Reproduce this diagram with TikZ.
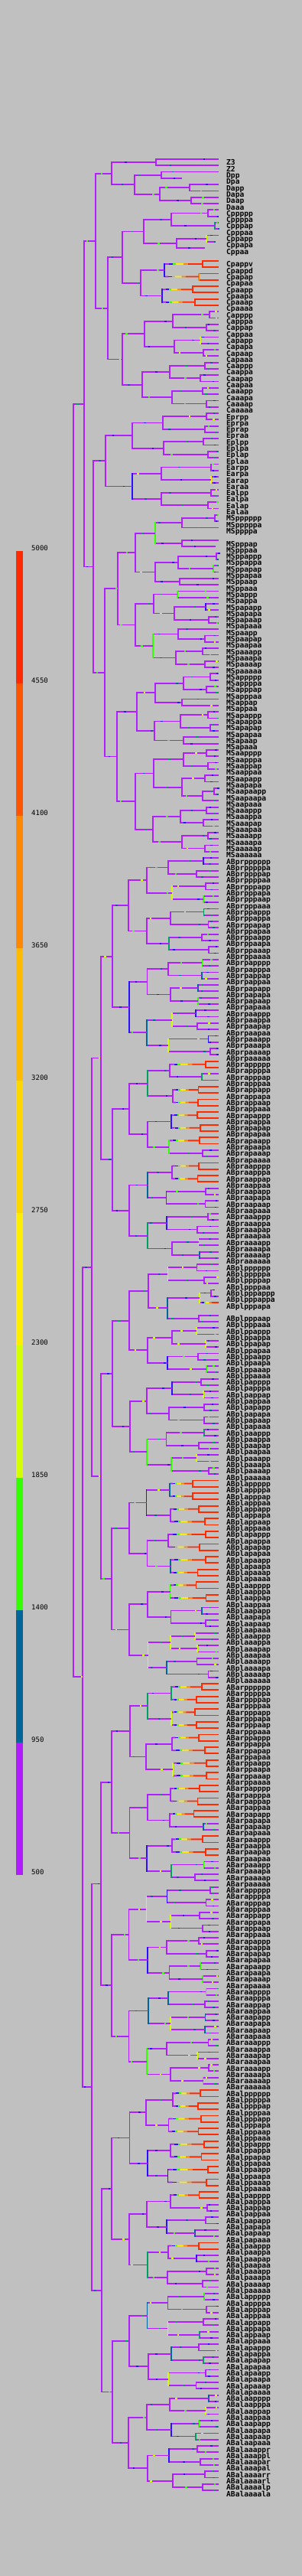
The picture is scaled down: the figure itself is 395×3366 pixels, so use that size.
\documentclass[tikz,border=0pt]{standalone}
\usepackage{fontspec}
\setmonofont{DejaVu Sans Mono}
\usetikzlibrary{calc}

\definecolor{bggray}{HTML}{C0C0C0}
\definecolor{lpurple}{HTML}{B01EFF}
\definecolor{lteal}{HTML}{006699}
\definecolor{lgreen}{HTML}{33FF00}
\definecolor{lygreen}{HTML}{D4FF00}
\definecolor{lyellow}{HTML}{FFEE00}
\definecolor{lgold}{HTML}{FFD700}
\definecolor{lamber}{HTML}{FFBB00}
\definecolor{lorange}{HTML}{FF8800}
\definecolor{lredor}{HTML}{FF5500}
\definecolor{lred}{HTML}{FF2A00}
\definecolor{lblue}{HTML}{2A10FF}
\definecolor{lsea}{HTML}{00A060}

\newcount\rowc
\newcommand\lblfont{\ttfamily\bfseries\fontsize{9.6}{10}\selectfont}
\newcommand\legfont{\ttfamily\fontsize{9}{10}\selectfont}
\def\ystart{208}\def\ystep{8.3}\def\xlab{296}
\def\hotw{hot}\def\purw{lpurple}\def\rndw{rand}

\pgfmathdeclarerandomlist{vcl}{{lpurple}{lpurple}{lpurple}{lpurple}{lpurple}{lpurple}{lgreen}{lblue}{lteal}{lsea}{lygreen}}
\pgfmathdeclarerandomlist{spl}{{lblue}{lblue}{lgreen}{lteal}{lygreen}{lsea}}

\tikzset{
  hline/.style={line width=1.8pt},
  vline/.style={line width=1.8pt, line cap=rect},
  lbl/.style={anchor=base west, inner sep=0pt, font=\lblfont},
  legtxt/.style={anchor=base west, inner sep=0pt, font=\legfont}
}

% branch from division of #2 to cell #3, kind #1
\newcommand\brline[3]{%
  \coordinate (h) at (c-#2 |- c-#3);
  \edef\tmpa{#1}%
  \ifx\tmpa\hotw
    \foreach \fa/\fb/\fc in {0/.12/lpurple,.12/.22/lblue,.22/.3/lgreen,.3/.5/lyellow,.5/.62/lorange,.62/1/lred}
      {\draw[hline,draw=\fc] ($(h)!\fa!(c-#3)$) -- ($(h)!\fb!(c-#3)$);}
  \else
    \draw[hline,draw=\tmpa] (h) -- (c-#3);
    \ifx\tmpa\purw
      \pgfmathsetmacro\sf{0.1+0.75*rnd}\pgfmathrandomitem\sc{spl}%
      \draw[hline,draw=\sc] ($(h)!\sf!(c-#3)$) -- ++(2.5,0);
    \fi
  \fi}

\newcommand\pickcol[1]{\edef\tmpa{#1}%
  \ifx\tmpa\empty\edef\vc{\curK}\else
    \ifx\tmpa\rndw
      \edef\tmpc{\curK}%
      \ifx\tmpc\purw\pgfmathrandomitem\vc{vcl}\else\edef\vc{\curK}\fi
    \else\edef\vc{#1}\fi
  \fi}

% one division: #1 colour, #2 #3 daughter names, #4 x, #5 #6 daughters
\newcommand\mkcell[6]{%
  \begingroup
  \edef\pname{\cname}%
  \edef\cname{#2}#5%
  \edef\nA{\retN}\edef\kA{\retK}\edef\yA{\retY}%
  \edef\cname{#3}#6%
  \edef\nB{\retN}\edef\kB{\retK}\edef\yB{\retY}%
  \pgfmathsetmacro\ym{(\yA+\yB)/2}%
  \coordinate (c-\pname) at (#4,\ym);
  \brline{\kA}{\pname}{\nA}%
  \brline{\kB}{\pname}{\nB}%
  \pickcol{#1}%
  \draw[vline,draw=\vc] (c-\pname |- c-\nA) -- (c-\pname |- c-\nB);
  \xdef\retN{\pname}\xdef\retY{\ym}\xdef\retK{\myK}%
  \endgroup}

\newcommand\Nx[6][]{\begingroup\edef\myK{\curK}\edef\nmA{\cname#2}\edef\nmB{\cname#3}\mkcell{#1}{\nmA}{\nmB}{#4}{#5}{#6}\endgroup}
\newcommand\Nd[4][]{\Nx[#1]{p}{a}{#2}{#3}{#4}}
\newcommand\Nn[6][]{\begingroup\edef\myK{\curK}\edef\nmA{#2}\edef\nmB{#3}\mkcell{#1}{\nmA}{\nmB}{#4}{#5}{#6}\endgroup}
\newcommand\Nhx[6][lred]{\begingroup\def\myK{hot}\def\curK{lred}\edef\nmA{\cname#2}\edef\nmB{\cname#3}\mkcell{#1}{\nmA}{\nmB}{#4}{#5}{#6}\endgroup}
\newcommand\Nh[4][lred]{\Nhx[#1]{p}{a}{#2}{#3}{#4}}

% leaf cell, optional end of its line
\newcommand\Lf[1][286]{%
  \pgfmathsetmacro\yy{\ystart+\the\rowc*\ystep}%
  \global\advance\rowc by 1
  \coordinate (c-\cname) at (#1,\yy);
  \node[lbl] (t-\cname) at (\xlab,\yy+8) {\cname};
  \xdef\retN{\cname}\xdef\retY{\yy}\xdef\retK{\curK}}
\newcommand\Lh{\begingroup\def\curK{hot}\Lf\endgroup}
\newcommand\Gp{\global\advance\rowc by 1\relax}

% late AB units
\def\Un{\Nd[rand]{255+rnd*20}{\Lf}{\Lf}}
\def\Uh{\Nh{252+rnd*20}{\Lf}{\Lf}}
\def\Uu{\Nd[lygreen]{261}{\Nd{276}{\Lf[280]}{\Lf}}{\Lh}\Gp}
\def\sv#1{\csname U#1\endcsname}
\def\ABq#1#2#3#4#5#6#7#8#9{%
  \Nd[#1]{168+rnd*2}%
    {\Nd[rand]{191+rnd*3}{\Nd[rand]{217+rnd*10}{\sv#2}{\sv#3}}{\Nd[rand]{217+rnd*10}{\sv#4}{\sv#5}}}%
    {\Nd[rand]{191+rnd*3}{\Nd[rand]{217+rnd*10}{\sv#6}{\sv#7}}{\Nd[rand]{217+rnd*10}{\sv#8}{\sv#9}}}}

\begin{document}
\begin{tikzpicture}[x=1pt,y=-1pt]
\useasboundingbox (0,0) rectangle (395,3366);
\fill[bggray] (0,0) rectangle (395,3366);
\pgfmathsetseed{7}

% colour key
\foreach \i/\c in {0/lred,1/lredor,2/lorange,3/lamber,4/lgold,5/lyellow,6/lygreen,7/lgreen,8/lteal,9/lpurple}
  \fill[\c] (21,720+173*\i) rectangle (30,720+173*\i+173);
\foreach \i/\v in {0/5000,1/4550,2/4100,3/3650,4/3200,5/2750,6/2300,7/1850,8/1400,9/950,10/500}
  \node[legtxt] (key\i) at (41,719.5+173*\i) {\v};

% lineage
\global\rowc=0
\def\cname{P0}\def\curK{lpurple}
\Nn{P1}{AB}{96}
{\Nn{P2}{EMS}{110}
  {\Nn{P3}{C}{125}
    {\Nn{P4}{D}{146}
      {\Nn{Z3}{Z2}{204}{\Lf}{\Lf}}
      {\Nd{176}{\Nd{211}{\Lf}{\Lf[238]}}{\Nd{209}{\Nd{248}{\Lf}{\Lf}}{\Nd{250}{\Lf}{\Lf}}}}}
    {\Nd{141}
      {\Nd{160}
        {\Nd{188}{\Nd{224}{\Nd{272}{\Lf}{\Lf}}{\Nd[lsea]{281}{\Lf}{\Lf}}}{\Nd{231}{\Nd[lygreen]{270}{\Lf}{\Lf[282]}}{\Lf[268]}}}
        {\Nd{184}{\Gp\Nd[lblue]{215}{\Nhx{v}{d}{265}{\Lf}{\Lf}}{\Nh[lorange]{260}{\Lf}{\Lf}}}{\Nd[lblue]{212}{\Nh{252}{\Lf}{\Lf}}{\Nh{255}{\Lf}{\Lf}}}}}
      {\Nd{160}
        {\Nd{189}{\Nd{226}{\Nd{274}{\Lf}{\Lf}}{\Nd{270}{\Lf}{\Lf}}}{\Nd{228}{\Nd[lygreen]{262}{\Lf}{\Lf}}{\Nd{266}{\Lf}{\Lf}}}}
        {\Nd{186}{\Nd{222}{\Nd{268}{\Lf}{\Lf}}{\Nd{262}{\Lf}{\Lf}}}{\Nd{225}{\Nd{265}{\Lf}{\Lf}}{\Nd{270}{\Lf}{\Lf}}}}}}}
  {\Nn{E}{MS}{122}
    {\Nd{138}
      {\Nx{r}{l}{173}{\Nd{213}{\Nd{270}{\Lf}{\Lf}}{\Nd{268}{\Lf}{\Lf}}}{\Nd{214}{\Nd{266}{\Lf}{\Lf}}{\Nd{272}{\Lf}{\Lf}}}}
      {\Nx[lblue]{r}{l}{173}{\Nd{211}{\Nd{276}{\Lf}{\Lf}}{\Nd[lyellow]{276}{\Lf}{\Lf}}}{\Nd{211}{\Nd{276}{\Lf}{\Lf}}{\Nd{272}{\Lf}{\Lf}}}}}
    {\Nd{137}
      {\Nd{154}
        {\Nd{177}
          {\Nd[lgreen]{203}{\Nd{238}{\Nd{281}{\Lf}{\Lf}}{\Lf}}{\Gp\Nd{238}{\Lf}{\Lf[282]}}}
          {\Nd{203}{\Nd{233}{\Nd{283}{\Lf}{\Lf}}{\Nd[lgreen]{279}{\Lf}{\Lf}}}{\Nd{235}{\Lf}{\Lf}}}}
        {\Nd{177}
          {\Nd{201}{\Nd[lgreen]{232}{\Lf}{\Lf}}{\Nd{228}{\Nd[lblue]{269}{\Lf}{\Lf}}{\Nd{273}{\Lf}{\Lf}}}}
          {\Nd[lgreen]{200}{\Nd{233}{\Lf}{\Nd{268}{\Lf}{\Lf}}}{\Nd{230}{\Nd{265}{\Lf}{\Lf}}{\Nd{268}{\Lf}{\Lf}}}}}}
      {\Nd{153}
        {\Nd{179}
          {\Nd{203}{\Nd{240}{\Nd{275}{\Lf}{\Lf}}{\Nd{270}{\Lf}{\Lf}}}{\Nd{238}{\Lf}{\Lf}}}
          {\Nd{202}{\Nd{236}{\Nd{272}{\Lf}{\Lf}}{\Nd{275}{\Lf}{\Lf}}}{\Nd{240}{\Lf}{\Lf}}}}
        {\Nd{177}
          {\Nd{201}{\Nd{240}{\Nd{270}{\Lf}{\Lf}}{\Nd{272}{\Lf}{\Lf}}}{\Nd{238}{\Nd{268}{\Lf}{\Lf}}{\Nd{265}{\Nd{280}{\Lf}{\Lf}}{\Lf}}}}
          {\Nd{200}{\Nd{236}{\Nd{270}{\Lf}{\Lf}}{\Nd{266}{\Lf}{\Lf}}}{\Nd{238}{\Nd{272}{\Lf}{\Lf}}{\Nd{268}{\Lf}{\Lf}}}}}}}}}
{\Nn{ABp}{ABa}{108}
  {\Nx{r}{l}{120}
    {\Nd{132}
      {\Nd{147}{\ABq{}nnnnnnnn}{\ABq{lblue}nnnnnnnn}}
      {\Nd{147}{\ABq{}hnhhhhhn}{\ABq{}hhnnnnnn}}}
    {\Nd{132}
      {\Nd{147}{\ABq{}nnunnnnn}{\ABq{}nnnnnnnn}}
      {\Nd{146}{\ABq{}hhhhhhhh}{\ABq{}hhnnnnnn}}}}
  {\Nx{r}{l}{120}
    {\Nd{132}
      {\Nd{146}{\ABq{}hhhhhhhh}{\ABq{}hhhnhhnn}}
      {\Nd{146}{\ABq{}nnnnnnnn}{\ABq{}nnnnnnnn}}}
    {\Nd{133}
      {\Nd{146}{\ABq{}hhhhhhhh}{\ABq{}hnnnhnnn}}
      {\Nd{147}{\ABq{}nnnnnnnn}
        {\Nd{168}
          {\Nd[rand]{192}{\Nd[rand]{222}{\Un}{\Un}}{\Nd[rand]{224}{\Un}{\Un}}}
          {\Nd[rand]{193}{\Nd[lblue]{221}{\Nx{r}{l}{258}{\Lf}{\Lf}}{\Nx{r}{l}{262}{\Lf}{\Lf}}}{\Nx{r}{l}{226}{\Nx{r}{l}{268}{\Lf}{\Lf}}{\Nd{265}{\Lf}{\Lf}}}}}}}}}
\end{tikzpicture}
\end{document}
